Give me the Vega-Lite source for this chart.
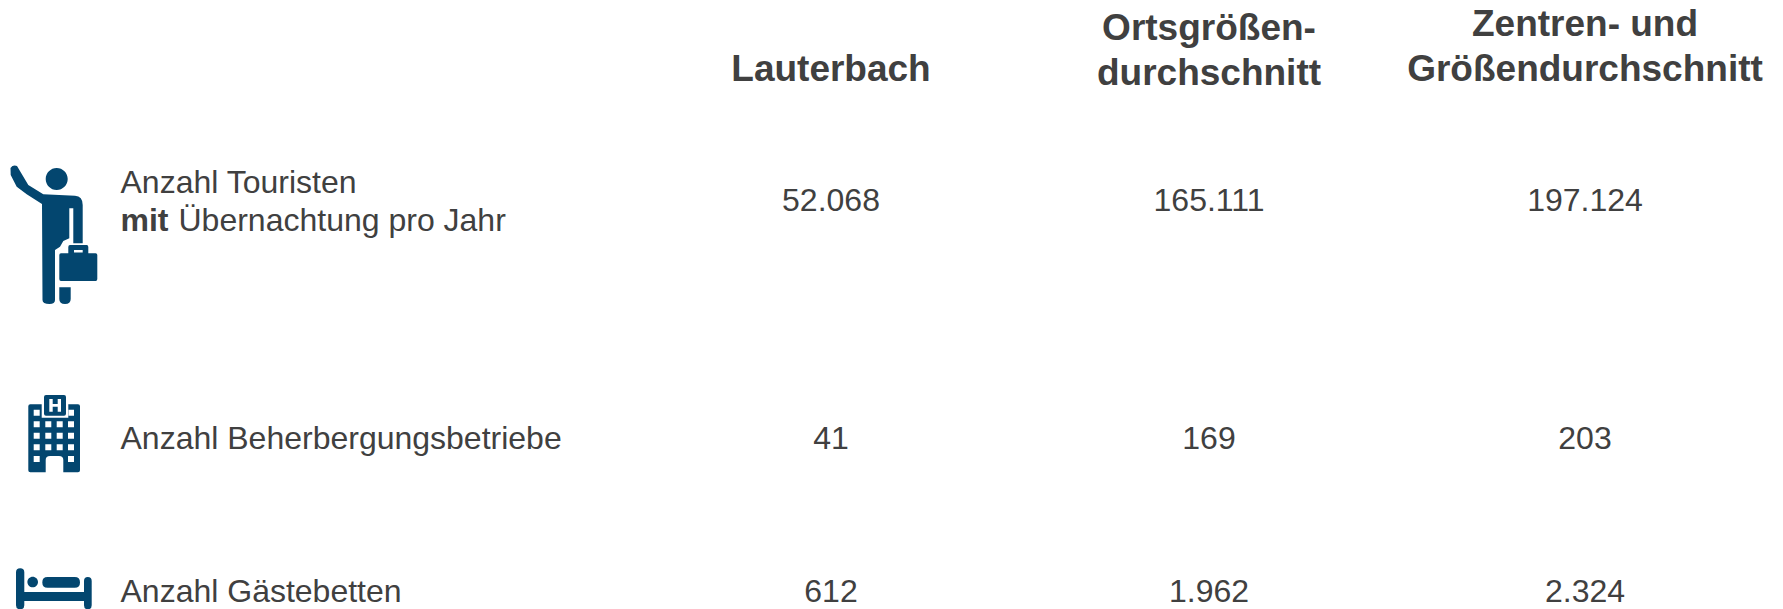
{
"$schema":"https://vega.github.io/schema/vega-lite/v6.json",
"width":1783,"height":609,"padding":0,
"autosize":{"type":"fit","contains":"padding"},
"background":"white",
"view":{"stroke":null},
"datasets":{
"kopf":[
{"spalte":3,"zeile":2,"text":"Lauterbach"},
{"spalte":4,"zeile":1,"text":"Ortsgrößen-"},
{"spalte":4,"zeile":3,"text":"durchschnitt"},
{"spalte":5,"zeile":0,"text":"Zentren- und"},
{"spalte":5,"zeile":2,"text":"Größendurchschnitt"}],
"werte":[
{"spalte":3,"zeile":6,"text":"52.068"},{"spalte":4,"zeile":6,"text":"165.111"},{"spalte":5,"zeile":6,"text":"197.124"},
{"spalte":3,"zeile":9,"text":"41"},{"spalte":4,"zeile":9,"text":"169"},{"spalte":5,"zeile":9,"text":"203"},
{"spalte":3,"zeile":10,"text":"612"},{"spalte":4,"zeile":10,"text":"1.962"},{"spalte":5,"zeile":10,"text":"2.324"}],
"beschriftung":[
{"spalte":1,"zeile":4,"text":"Anzahl Touristen"},
{"spalte":2,"zeile":7,"text":"Übernachtung pro Jahr"},
{"spalte":1,"zeile":9,"text":"Anzahl Beherbergungsbetriebe"},
{"spalte":1,"zeile":10,"text":"Anzahl Gästebetten"}],
"fett":[{"spalte":1,"zeile":7,"text":"mit"}],
"icons":[
{"spalte":0,"zeile":5,"icon":"Tourist"},
{"spalte":0,"zeile":8,"icon":"Hotel"},
{"spalte":0,"zeile":10,"icon":"Bett"}]
},
"encoding":{
"x":{"field":"spalte","type":"quantitative","axis":null,"scale":{"domain":[0,1,2,3,4,5],"range":[50,120.5,178.5,831,1209,1585]}},
"y":{"field":"zeile","type":"quantitative","axis":null,"scale":{"domain":[0,1,2,3,4,5,6,7,8,9,10],"range":[25,29,70,74,183,200,201,220.5,438,438.5,592]}}
},
"layer":[
{"data":{"name":"icons"},
"mark":{"type":"point","filled":true,"size":4,"opacity":1,"strokeWidth":0,"clip":false},
"encoding":{"shape":{"field":"icon","type":"nominal","legend":null,"scale":{"domain":["Tourist","Hotel","Bett"],"range":[
"M-4.3 -21A11 11 0 1 1 17.7 -21A11 11 0 1 1 -4.3 -21ZM-39.5 -32Q-37 -35.5 -33 -34L-21.7 -15L-6.7 -5.7L25 -4.3Q32.7 -4 32.7 5L32.7 43.3L23.3 43.3L23.3 8.3L19.3 8.3L19.3 38.3L13.3 41L10 46.7L5 50L5 100Q5 104 -0.5 104Q-7.5 104 -7.5 100L-8 4L-23.3 -5.7L-33.3 -13.3L-39.3 -25ZM9.3 87.3L20.7 87.3L20.7 99Q20.7 104 15 104Q9.3 104 9.3 99ZM9.3 55Q9.3 53.3 11 53.3L18.3 53.3L18.3 47Q18.3 45 20 45L36.7 45Q38.3 45 38.3 47L38.3 53.3L45.6 53.3Q47.3 53.3 47.3 55L47.3 79Q47.3 81 45.6 81L11 81Q9.3 81 9.3 79ZM24 50L24 52.5L32.7 52.5L32.7 50Z",
"M-21.7 -31.7Q-21.7 -33.7 -19.7 -33.7L-8.3 -33.7L-8.3 -20.3L18.3 -20.3L18.3 -33.7L28 -33.7Q30 -33.7 30 -31.7L30 32.3Q30 34.3 28 34.3L13.3 34.3L13.3 22Q13.3 18 9 18L0 18Q-4.3 18 -4.3 22L-4.3 34.3L-19.7 34.3Q-21.7 34.3 -21.7 32.3ZM-16.3 -28.3L-16.3 -22.3L-10.3 -22.3L-10.3 -28.3ZM18 -28.3L18 -22.3L24 -22.3L24 -28.3ZM-16.3 -16.7L-16.3 -10.7L-10.3 -10.7L-10.3 -16.7ZM-4.7 -16.7L-4.7 -10.7L1.3 -10.7L1.3 -16.7ZM6.7 -16.7L6.7 -10.7L12.7 -10.7L12.7 -16.7ZM18 -16.7L18 -10.7L24 -10.7L24 -16.7ZM-16.3 -5.3L-16.3 0.7L-10.3 0.7L-10.3 -5.3ZM-4.7 -5.3L-4.7 0.7L1.3 0.7L1.3 -5.3ZM6.7 -5.3L6.7 0.7L12.7 0.7L12.7 -5.3ZM18 -5.3L18 0.7L24 0.7L24 -5.3ZM-16.3 6.3L-16.3 12.3L-10.3 12.3L-10.3 6.3ZM-4.7 6.3L-4.7 12.3L1.3 12.3L1.3 6.3ZM6.7 6.3L6.7 12.3L12.7 12.3L12.7 6.3ZM18 6.3L18 12.3L24 12.3L24 6.3ZM-16.3 18L-16.3 24L-10.3 24L-10.3 18ZM18 18L18 24L24 24L24 18ZM-6 -41Q-6 -43 -4 -43L14 -43Q16 -43 16 -41L16 -24.3Q16 -22.3 14 -22.3L-4 -22.3Q-6 -22.3 -6 -24.3ZM-0.7 -39L-0.7 -26.3L2.7 -26.3L2.7 -31.3L7.7 -31.3L7.7 -26.3L11 -26.3L11 -39L7.7 -39L7.7 -34L2.7 -34L2.7 -39Z",
"M-34 -19.7Q-34 -23.7 -29.8 -23.7Q-25.7 -23.7 -25.7 -19.7L-25.7 0L34 0L34 -11Q34 -15 37.8 -15Q41.7 -15 41.7 -11L41.7 13.3Q41.7 17.3 37.8 17.3Q34 17.3 34 13.3L34 9L-25.7 9L-25.7 13.3Q-25.7 17.3 -29.8 17.3Q-34 17.3 -34 13.3ZM-22.6 -10A5.3 5.3 0 1 1 -12 -10A5.3 5.3 0 1 1 -22.6 -10ZM-2.4 -15L24.7 -15Q30 -15 30 -9.6Q30 -4.3 24.7 -4.3L-2.4 -4.3Q-7.7 -4.3 -7.7 -9.6Q-7.7 -15 -2.4 -15Z"
]}},
"color":{"value":"#03466f"}}},
{"data":{"name":"kopf"},
"mark":{"type":"text","font":"Liberation Sans","fontWeight":"bold","fontSize":37,"align":"center","baseline":"middle","color":"#404040"},
"encoding":{"text":{"field":"text","type":"nominal"}}},
{"data":{"name":"werte"},
"mark":{"type":"text","font":"Liberation Sans","fontSize":32,"align":"center","baseline":"middle","color":"#404040"},
"encoding":{"text":{"field":"text","type":"nominal"}}},
{"data":{"name":"beschriftung"},
"mark":{"type":"text","font":"Liberation Sans","fontSize":32,"align":"left","baseline":"middle","color":"#404040"},
"encoding":{"text":{"field":"text","type":"nominal"}}},
{"data":{"name":"fett"},
"mark":{"type":"text","font":"Liberation Sans","fontWeight":"bold","fontSize":32,"align":"left","baseline":"middle","color":"#404040"},
"encoding":{"text":{"field":"text","type":"nominal"}}}
]
}
